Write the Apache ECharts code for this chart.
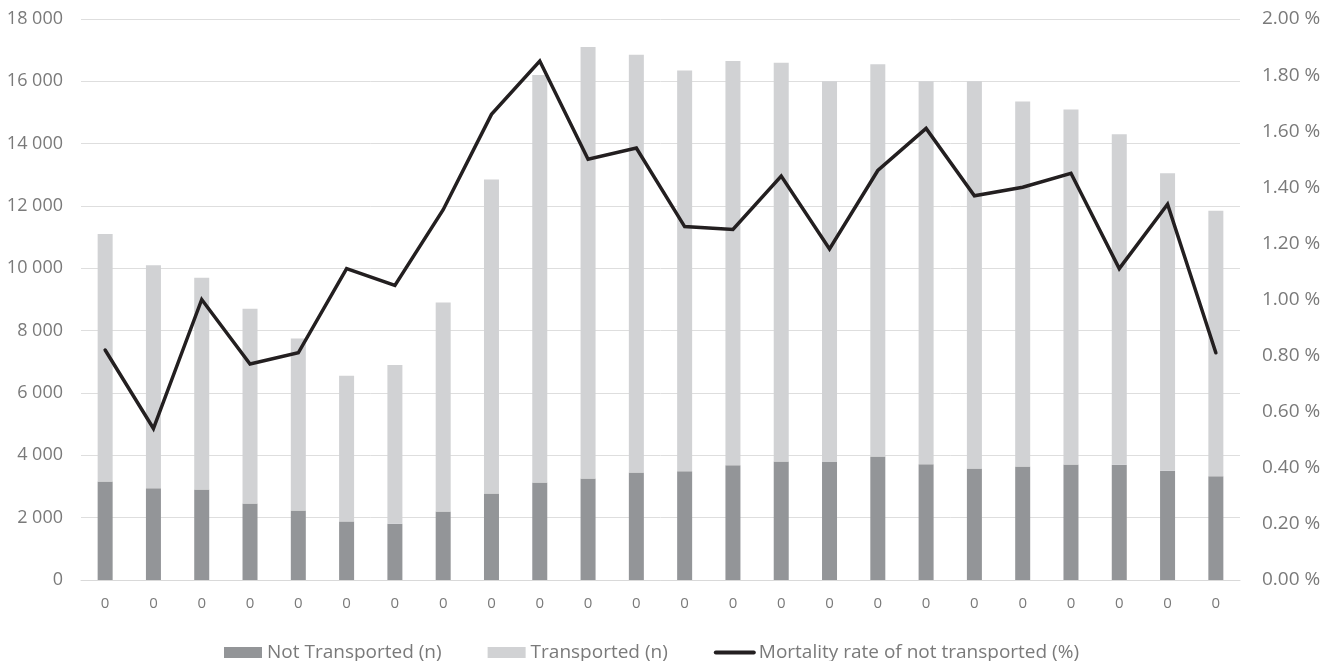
<!DOCTYPE html>
<html>
<head>
<meta charset="utf-8">
<script src="https://cdn.jsdelivr.net/npm/echarts@6/dist/echarts.min.js"></script>
<style>html,body{margin:0;padding:0;background:#fff;}#c{width:1332px;height:661px;}</style>
</head>
<body>
<div id="c"></div>
<script>
const categories = ['0','0','0','0','0','0','0','0','0','0','0','0','0','0','0','0','0','0','0','0','0','0','0','0'];
const notTransported = [3160,2940,2900,2455,2230,1880,1805,2200,2775,3130,3255,3450,3490,3685,3800,3790,3960,3715,3575,3640,3705,3695,3505,3330];
const totals = [11100,10100,9700,8700,7750,6550,6900,8900,12850,16200,17100,16850,16350,16650,16600,16000,16550,16000,16000,15350,15100,14300,13050,11850];
const transported = totals.map((t, i) => t - notTransported[i]);
const mortality = [0.82,0.54,1.00,0.77,0.81,1.11,1.05,1.32,1.66,1.85,1.50,1.54,1.26,1.25,1.44,1.18,1.46,1.61,1.37,1.40,1.45,1.11,1.34,0.81];

const FONT = '"Open Sans", "Noto Sans", sans-serif';
const chart = echarts.init(document.getElementById('c'));
chart.setOption({
  animation: false,
  backgroundColor: '#ffffff',
  grid: { left: 81, right: 92, top: 19, bottom: 81, containLabel: false },
  legend: {
    top: 638,
    left: 219,
    itemWidth: 38,
    itemHeight: 11,
    itemGap: 46,
    textStyle: { color: '#7a7a7a', fontSize: 19, fontFamily: FONT },
    data: [
      { name: 'Not Transported (n)', icon: 'rect' },
      { name: 'Transported (n)', icon: 'rect' },
      { name: 'Mortality rate of not transported (%)', itemStyle: { opacity: 0 }, lineStyle: { width: 4, cap: 'round', color: '#231f20' } }
    ]
  },
  xAxis: {
    type: 'category',
    data: categories,
    axisLine: { lineStyle: { color: '#d9d9d9', width: 1 } },
    axisTick: { show: false },
    axisLabel: { color: '#7a7a7a', fontSize: 15, fontFamily: FONT, margin: 16, interval: 0 }
  },
  yAxis: [
    {
      type: 'value', min: 0, max: 18000, interval: 2000,
      axisLine: { show: false }, axisTick: { show: false },
      splitLine: { lineStyle: { color: '#dedede', width: 1 } },
      axisLabel: {
        color: '#7a7a7a', fontSize: 18, fontFamily: FONT, margin: 18,
        formatter: v => v >= 1000 ? Math.floor(v/1000) + ' ' + String(v%1000).padStart(3,'0') : String(v)
      }
    },
    {
      type: 'value', min: 0, max: 2, interval: 0.2, position: 'right',
      axisLine: { show: false }, axisTick: { show: false },
      splitLine: { show: false },
      axisLabel: {
        color: '#7a7a7a', fontSize: 19, fontFamily: FONT, margin: 22,
        formatter: v => v.toFixed(2) + ' %'
      }
    }
  ],
  series: [
    {
      name: 'Not Transported (n)', type: 'bar', stack: 'n', data: notTransported,
      barWidth: 15, itemStyle: { color: '#939598' }
    },
    {
      name: 'Transported (n)', type: 'bar', stack: 'n', data: transported,
      barWidth: 15, itemStyle: { color: '#d1d2d4' }
    },
    {
      name: 'Mortality rate of not transported (%)', type: 'line', yAxisIndex: 1,
      data: mortality, symbol: 'none', showSymbol: false,
      lineStyle: { color: '#231f20', width: 3.5, cap: 'round', join: 'miter' },
      itemStyle: { color: '#231f20' }
    }
  ]
});
</script>
</body>
</html>
